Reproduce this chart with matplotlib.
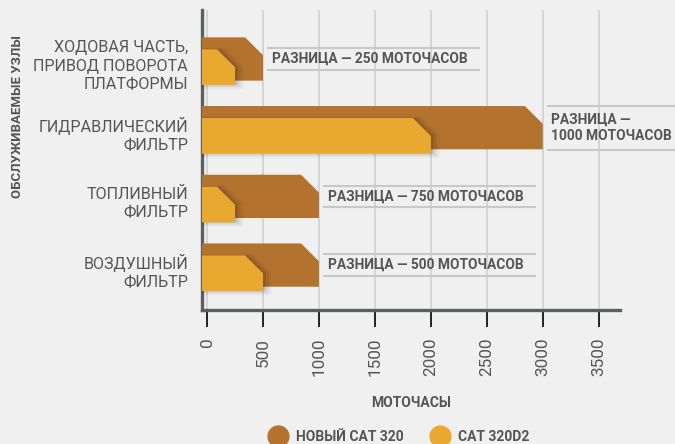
import matplotlib
matplotlib.use("Agg")
from matplotlib import pyplot as plt
from matplotlib.patches import Polygon
from matplotlib.lines import Line2D

# data
categories = ["ХОДОВАЯ ЧАСТЬ,\nПРИВОД ПОВОРОТА\nПЛАТФОРМЫ",
              "ГИДРАВЛИЧЕСКИЙ\nФИЛЬТР",
              "ТОПЛИВНЫЙ\nФИЛЬТР",
              "ВОЗДУШНЫЙ\nФИЛЬТР"]
new_cat = [500, 3000, 1000, 1000]       # НОВЫЙ CAT 320
old_cat = [250, 2000, 250, 500]         # CAT 320D2
diff_labels = ["РАЗНИЦА — 250 МОТОЧАСОВ",
               "РАЗНИЦА —\n1000 МОТОЧАСОВ",
               "РАЗНИЦА — 750 МОТОЧАСОВ",
               "РАЗНИЦА — 500 МОТОЧАСОВ"]
xticks = [0, 500, 1000, 1500, 2000, 2500, 3000, 3500]

bg = "#f0f0f0"
txt = "#555555"
c_new = "#b3732f"
c_old = "#e9a931"

plt.rcParams['font.family'] = ['Roboto', 'DejaVu Sans']

fig = plt.figure(figsize=(6.75, 4.44), dpi=100, facecolor=bg)
ax = fig.add_axes([202/675, 1-310/444, (620-202)/675, 300/444])
ax.set_facecolor(bg)

x0, x1 = -45, 3690
ax.set_xlim(x0, x1)
ax.set_ylim(3.654, -0.713)

# chamfer size, roughly 18 px each way
cx = 160
cy = 0.26

def chamfer_bar(y, h, val, color, z, alpha=1.0):
  top = y - h/2
  bot = y + h/2
  pts = [(x0, top), (val - cx, top), (val, top + cy), (val, bot), (x0, bot)]
  ax.add_patch(Polygon(pts, closed=True, facecolor=color, edgecolor="none",
                       zorder=z, alpha=alpha))

for i in range(len(categories)):
  chamfer_bar(i, 0.63, new_cat[i], c_new, 3)
  # soft shadow of the front bar
  for k, a in enumerate([0.10, 0.07, 0.04]):
    chamfer_bar(i + 0.12 + 0.01*k, 0.52 + 0.04*k, old_cat[i] + 25*(k+1), "#000000", 3.5, a)
  chamfer_bar(i + 0.12, 0.52, old_cat[i], c_old, 4)

  # difference label with thin rules above and below
  start = new_cat[i] + 40
  half = 0.32 if "\n" in diff_labels[i] else 0.155
  for yy in (i - half, i + half):
    ax.plot([start, start + 1900], [yy, yy], color="#c8c8c8", lw=1.5,
            clip_on=False, zorder=2, solid_capstyle="butt")
  ax.annotate(diff_labels[i], xy=(start, i), xytext=(3, 0), textcoords="offset points",
              ha="left", va="center", fontsize=9.9, fontweight="bold", color=txt,
              linespacing=1.2, zorder=5, annotation_clip=False)

ax.set_xticks(xticks)
ax.set_xticklabels([str(v) for v in xticks], rotation=90, fontsize=12.3, color=txt)
# labels sit a touch below the bar centres in the original
ax.set_yticks([i + 0.06 for i in range(len(categories))])
ax.set_yticklabels(categories, fontsize=11.6, color=txt, linespacing=1.3)
for lbl in ax.get_yticklabels():
  lbl.set_multialignment("right")

ax.tick_params(axis="y", length=0, pad=10)
ax.tick_params(axis="x", length=12, width=1.2, color="black", pad=8, direction="out")
ax.grid(axis="x", color="#d0d0d0", lw=1.2, zorder=0)
ax.set_axisbelow(True)

for s in ["top", "right"]:
  ax.spines[s].set_visible(False)
for s in ["left", "bottom"]:
  ax.spines[s].set_color("#5b5f5f")
  ax.spines[s].set_linewidth(2.4)

ax.set_xlabel("МОТОЧАСЫ", fontsize=10, fontweight="bold", color=txt, labelpad=14)
fig.text(18/675, 1-117/444, "ОБСЛУЖИВАЕМЫЕ УЗЛЫ", rotation=90, ha="center", va="center",
         fontsize=9.5, fontweight="bold", color=txt)

handles = [Line2D([], [], ls="none", marker="o", markersize=15, color=c_new, label="НОВЫЙ CAT 320"),
           Line2D([], [], ls="none", marker="o", markersize=15, color=c_old, label="CAT 320D2")]
leg = fig.legend(handles=handles, loc="center", bbox_to_anchor=(397/675, 1-437/444), ncol=2,
                 frameon=False, handletextpad=0.3, columnspacing=1.6,
                 prop={"size": 10, "weight": "bold"})
for t in leg.get_texts():
  t.set_color(txt)

fig.savefig("out.png", dpi=100, facecolor=bg)
